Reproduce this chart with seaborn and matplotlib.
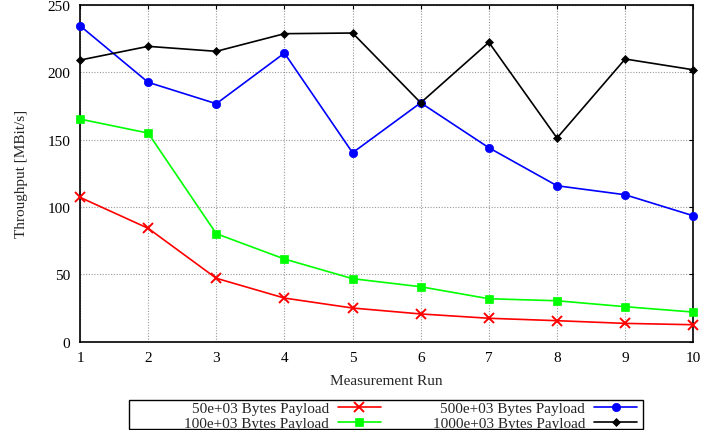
import matplotlib
matplotlib.use("Agg")
import matplotlib.pyplot as plt
import matplotlib.patches as mpatches
import seaborn as sns
import pandas as pd

runs = [1, 2, 3, 4, 5, 6, 7, 8, 9, 10]
payload_50k = [107.2, 84.2, 47.1, 32.4, 25.0, 20.6, 17.4, 15.6, 13.6, 12.6]
payload_100k = [165.3, 154.9, 80.2, 61.4, 46.8, 40.8, 31.9, 30.4, 26.0, 22.0]
payload_500k = [234.6, 192.6, 176.7, 214.3, 140.3, 177.4, 144.0, 115.8, 109.1, 93.5]
payload_1000k = [209.1, 219.3, 215.6, 228.7, 229.2, 177.4, 222.3, 151.2, 209.9, 201.9]
labels = ["50e+03 Bytes Payload", "100e+03 Bytes Payload",
          "500e+03 Bytes Payload", "1000e+03 Bytes Payload"]
yticks = [0, 50, 100, 150, 200, 250]

sns.set_theme(style="white")
plt.rcParams["font.family"] = ["Liberation Serif", "DejaVu Serif"]

series = [payload_50k, payload_100k, payload_500k, payload_1000k]
colors = ["#ff0000", "#00ff00", "#0000ff", "#000000"]
markers = ["x", "s", "o", "D"]
msizes = [6.5, 5.5, 6, 4]

fig = plt.figure(figsize=(7.01, 4.31), dpi=100)
ax = fig.add_axes([80 / 701, 1 - 342.7 / 431, (693.3 - 80) / 701, (342.7 - 6) / 431])

for vals, lab, c, m, ms in zip(series, labels, colors, markers, msizes):
    df = pd.DataFrame({"run": runs, "throughput": vals})
    kw = dict(markeredgewidth=1.4) if m == "x" else dict(markeredgewidth=0.5, markerfacecolor=c)
    sns.lineplot(data=df, x="run", y="throughput", color=c, marker=m,
                 markersize=ms, markeredgecolor=c, linewidth=1.2, ax=ax,
                 label=lab, legend=False, clip_on=False, zorder=3, **kw)

ax.set_xlim(1, 10)
ax.set_ylim(0, 250)
ax.set_xticks(runs)
ax.set_yticks(yticks)
ax.tick_params(direction="in", top=True, right=True, length=3, width=0.8,
               labelsize=11, colors="black", pad=7)
ax.grid(True, color="#999999", linestyle=(0, (1, 1.5)), linewidth=0.8)
for sp in ax.spines.values():
    sp.set_color("black")
    sp.set_linewidth(1.2)

ax.set_xlabel("Measurement Run", fontsize=11, labelpad=7)
ax.set_ylabel("Throughput [MBit/s]", fontsize=11, labelpad=14)

fs_px = 11 * 100 / 72
handles = ax.get_lines()[:4]
leg = fig.legend(handles, labels, loc="upper left",
                 bbox_to_anchor=(184 / 701, 1 - 402.5 / 431),
                 ncol=2, markerfirst=False, fontsize=11, frameon=False,
                 borderpad=0.0, labelspacing=0.08, handlelength=43 / fs_px,
                 columnspacing=52 / fs_px, handletextpad=9 / fs_px,
                 borderaxespad=0)

box = mpatches.Rectangle((129 / 701, 1 / 431), (643 - 129) / 701, (430 - 400.7) / 431,
                         transform=fig.transFigure, fill=False,
                         edgecolor="black", linewidth=1.0)
fig.add_artist(box)

fig.savefig("out.png", dpi=100)
